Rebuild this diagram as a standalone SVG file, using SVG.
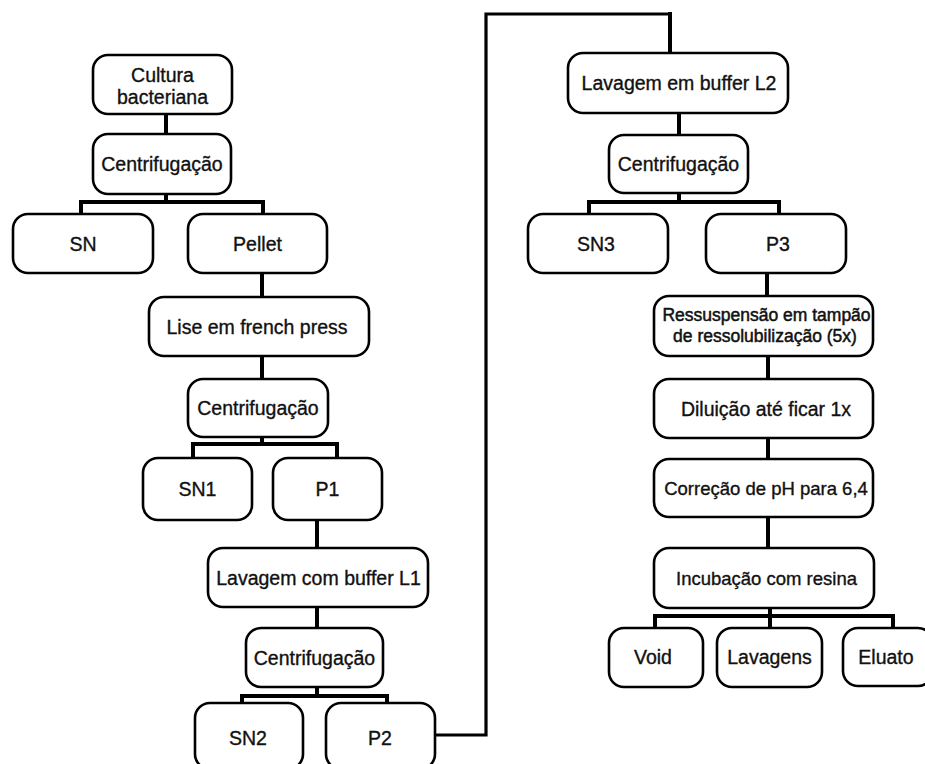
<svg xmlns="http://www.w3.org/2000/svg" width="925" height="764" viewBox="0 0 925 764">
<defs>
<style>
.box{fill:#fff;stroke:#000;stroke-width:2.6}
.t{font-family:"Liberation Sans",Arial,sans-serif;font-size:19.5px;fill:#111;stroke:#111;stroke-width:0.35;text-anchor:middle}
.s{font-size:18.5px}
.xs{font-size:17.5px;stroke-width:0.5}
.c{fill:none;stroke:#000;stroke-width:4;stroke-linejoin:miter;stroke-linecap:butt}
.c2{fill:none;stroke:#000;stroke-width:3.2;stroke-linejoin:miter}
</style>
</defs>
<rect width="925" height="764" fill="#fff"/>
<g id="connectors">
<path class="c" d="M166 114V134"/>
<path class="c" d="M166 194V202M81 214V202H263V214"/>
<path class="c" d="M262 273V297"/>
<path class="c" d="M262 356V379"/>
<path class="c" d="M262 437V444M193 458V444H337V458"/>
<path class="c" d="M317 520V548"/>
<path class="c" d="M317 607V628"/>
<path class="c" d="M317 687V696M242 703V696H387V703"/>
<path class="c2" d="M435 735H486V14H670"/>
<path class="c" d="M670 12V53"/>
<path class="c" d="M679 113V135"/>
<path class="c" d="M679 193V202M589 214V202H779V214"/>
<path class="c" d="M767 273V296"/>
<path class="c" d="M768 356V379"/>
<path class="c" d="M768 438V459"/>
<path class="c" d="M768 517V548"/>
<path class="c" d="M770 608V616M655 628V616H893V628M770 616V628"/>
</g>
<g id="n-cultura"><rect class="box" x="93" y="55" width="139" height="59" rx="15"/><text class="t" x="162.5" y="82">Cultura</text><text class="t" x="162.5" y="104">bacteriana</text></g>
<g id="n-cent1"><rect class="box" x="93" y="134" width="138" height="60" rx="15"/><text class="t" x="162" y="171">Centrifugação</text></g>
<g id="n-sn"><rect class="box" x="13" y="214" width="140" height="59" rx="15"/><text class="t" x="83" y="250.5">SN</text></g>
<g id="n-pellet"><rect class="box" x="188" y="214" width="139" height="59" rx="15"/><text class="t" x="257.5" y="250.5">Pellet</text></g>
<g id="n-lise"><rect class="box" x="149" y="297" width="220" height="59" rx="15"/><text class="t" x="257" y="333.5">Lise em french press</text></g>
<g id="n-cent2"><rect class="box" x="188" y="379" width="140" height="58" rx="15"/><text class="t" x="258" y="415">Centrifugação</text></g>
<g id="n-sn1"><rect class="box" x="143" y="458" width="109" height="62" rx="15"/><text class="t" x="197.5" y="496">SN1</text></g>
<g id="n-p1"><rect class="box" x="273" y="458" width="109" height="62" rx="15"/><text class="t" x="327.5" y="496">P1</text></g>
<g id="n-lav1"><rect class="box" x="208" y="548" width="220" height="59" rx="15"/><text class="t" x="318.5" y="584.5">Lavagem com buffer L1</text></g>
<g id="n-cent3"><rect class="box" x="246" y="628" width="137" height="59" rx="15"/><text class="t" x="314.5" y="664.5">Centrifugação</text></g>
<g id="n-sn2"><rect class="box" x="195" y="703" width="108" height="66" rx="15"/><text class="t" x="248" y="745">SN2</text></g>
<g id="n-p2"><rect class="box" x="326" y="703" width="109" height="66" rx="15"/><text class="t" x="380" y="745">P2</text></g>
<g id="n-lav2"><rect class="box" x="568" y="53" width="220" height="60" rx="15"/><text class="t" x="679" y="90">Lavagem em buffer L2</text></g>
<g id="n-cent4"><rect class="box" x="609" y="135" width="139" height="58" rx="15"/><text class="t" x="678.5" y="171">Centrifugação</text></g>
<g id="n-sn3"><rect class="box" x="528" y="214" width="140" height="59" rx="15"/><text class="t" x="596" y="250.5">SN3</text></g>
<g id="n-p3"><rect class="box" x="706" y="214" width="140" height="59" rx="15"/><text class="t" x="778" y="250.5">P3</text></g>
<g id="n-ress"><rect class="box" x="654" y="296" width="219" height="60" rx="15"/><text class="t xs" x="766.5" y="321">Ressuspensão em tampão</text><text class="t xs" x="765" y="342">de ressolubilização (5x)</text></g>
<g id="n-dil"><rect class="box" x="654" y="379" width="219" height="59" rx="15"/><text class="t" x="766" y="415.5">Diluição até ficar 1x</text></g>
<g id="n-corr"><rect class="box" x="654" y="459" width="219" height="58" rx="15"/><text class="t s" x="766" y="494.5">Correção de pH para 6,4</text></g>
<g id="n-incub"><rect class="box" x="654" y="548" width="220" height="60" rx="15"/><text class="t s" x="766.5" y="584.5">Incubação com resina</text></g>
<g id="n-void"><rect class="box" x="609" y="628" width="94" height="59" rx="15"/><text class="t" x="653" y="664">Void</text></g>
<g id="n-lavagens"><rect class="box" x="717" y="628" width="105" height="59" rx="15"/><text class="t" x="769.5" y="664">Lavagens</text></g>
<g id="n-eluato"><rect class="box" x="843" y="628" width="90" height="58" rx="15"/><text class="t" x="886" y="664">Eluato</text></g>
</svg>
